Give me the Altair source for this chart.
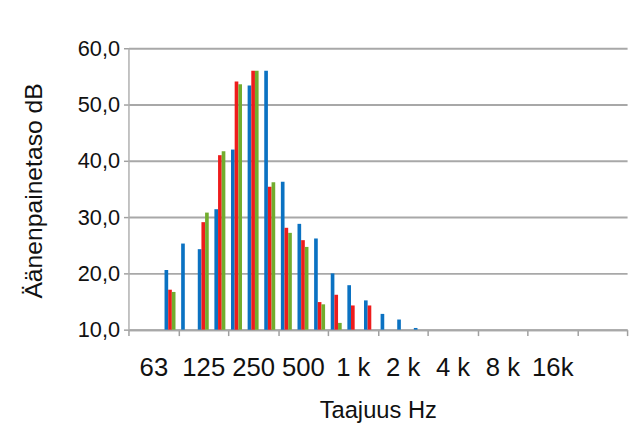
import altair as alt
import pandas as pd

# third-octave slots (30 slots = 10 octave groups)
slot_names = ["50", "63", "80", "100", "125", "160", "200", "250", "315", "400",
              "500", "630", "800", "1000", "1250", "1600", "2000", "2500", "3150", "4000",
              "5000", "6300", "8000", "10000", "12500", "16000", "20000", "25000", "31500", "40000"]
octave_labels = ["63", "125", "250", "500", "1 k", "2 k", "4 k", "8 k", "16k", ""]

series_names = ["Sarja 1", "Sarja 2", "Sarja 3"]
blue = [None, None, 20.6, 25.3, 24.3, 31.4, 42.0, 53.4, 56.0, 36.3, 28.8, 26.2, 20.0, 17.9, 15.2, 12.8, 11.8, 10.3]
red = [None, None, 17.1, None, 29.1, 41.0, 54.1, 56.0, 35.4, 28.1, 25.9, 14.9, 16.2, 14.3, 14.3]
green = [None, None, 16.7, None, 30.8, 41.7, 53.6, 56.0, 36.2, 27.2, 24.7, 14.5, 11.2]
colors = ["#0b72c2", "#ee1c1c", "#72ad2e"]

rows = []
for s_idx, vals in enumerate([blue, red, green]):
    for i, v in enumerate(vals):
        if v is not None:
            rows.append({"slot": i, "band": slot_names[i], "series": series_names[s_idx],
                         "sidx": s_idx, "value": v})
df = pd.DataFrame(rows)

x_vals = [i * 1.5 for i in range(21)]
label_arr = "[" + ",".join("'" + l + "'" for l in octave_labels) + "]"
FONT = "Liberation Sans, Arial, sans-serif"
TXT = "#111111"

x_axis = alt.Axis(
    values=x_vals,
    labelExpr=f"(datum.value % 3 == 1.5) ? {label_arr}[floor(datum.value / 3)] : ''",
    tickOpacity={"condition": {"test": "datum.value % 3 == 0", "value": 1}, "value": 0},
    tickSize=6, tickColor="#a0a0a0", tickWidth=1.5,
    domainColor="#a8a8a8", domainWidth=2,
    grid=False, labelOverlap=False, labelFlush=False, labelBound=False,
    labelFont=FONT, labelFontSize=26, labelColor=TXT, labelPadding=19,
    title="Taajuus Hz", titleFont=FONT, titleFontSize=24,
    titleFontWeight="normal", titleColor=TXT,
    titleY=89, titleBaseline="alphabetic",
)

y_axis = alt.Axis(
    values=[10, 20, 30, 40, 50, 60],
    labelExpr="replace(format(datum.value, '.1f'), '.', ',')",
    tickSize=5, tickColor="#a0a0a0", tickWidth=1.5,
    domainColor="#b0b0b0", domainWidth=1.5,
    grid=True, gridColor="#a8a8a8", gridWidth=2,
    labelFont=FONT, labelFontSize=22, labelColor=TXT, labelPadding=4,
    title="Äänenpainetaso dB", titleFont=FONT, titleFontSize=25,
    titleFontWeight="normal", titleColor=TXT,
    titleX=-88, titleY=144, titleBaseline="alphabetic", titleAlign="center", titleAngle=270,
)

chart = alt.Chart(df).transform_calculate(
    x1="datum.slot + 0.5 + (datum.sidx - 1) * 0.22 - 0.11",
    x2="datum.slot + 0.5 + (datum.sidx - 1) * 0.22 + 0.11",
    base="10",
).mark_bar().encode(
    x=alt.X("x1:Q", scale=alt.Scale(domain=[0, 30], nice=False, zero=False), axis=x_axis),
    x2="x2:Q",
    y=alt.Y("value:Q", scale=alt.Scale(domain=[10, 60], nice=False, zero=False), axis=y_axis),
    y2="base:Q",
    color=alt.Color("series:N", scale=alt.Scale(domain=series_names, range=colors), legend=None),
    tooltip=["band:N", "series:N", "value:Q"],
).properties(
    width=505, height=285,
    autosize=alt.AutoSizeParams(type="none"),
    padding={"left": 122, "top": 38, "right": 7, "bottom": 110},
    background="white",
).configure_view(stroke=None)

chart.save("out.html", embed_options={"renderer": "svg", "actions": False})
